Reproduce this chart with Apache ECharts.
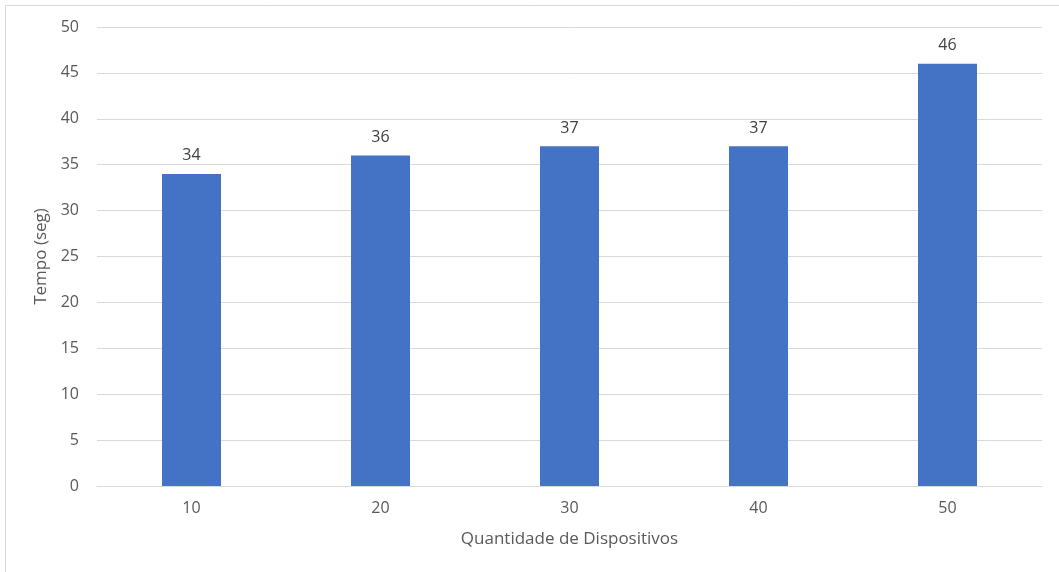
<!DOCTYPE html>
<html>
<head>
<meta charset="utf-8">
<script src="https://cdn.jsdelivr.net/npm/echarts@6/dist/echarts.min.js"></script>
<style>
html,body{margin:0;padding:0;background:#fff;}
#chart{width:1059px;height:572px;}
</style>
</head>
<body>
<div id="chart"></div>
<script>
const categories = ['10', '20', '30', '40', '50'];
const tempos = [34, 36, 37, 37, 46];
const xTitle = 'Quantidade de Dispositivos';
const yTitle = 'Tempo (seg)';

const chart = echarts.init(document.getElementById('chart'), null, {renderer: 'canvas'});
const font = 'Open Sans';
const textColor = '#595959';
chart.setOption({
  animation: false,
  backgroundColor: '#ffffff',
  graphic: [{
    type: 'rect',
    shape: {x: 5.5, y: 5.5, width: 1100, height: 600},
    style: {fill: 'none', stroke: '#d9d9d9', lineWidth: 1},
    silent: true
  }],
  grid: {left: 97, right: 17, top: 27, bottom: 86, containLabel: false},
  xAxis: {
    type: 'category',
    data: categories,
    name: xTitle,
    nameLocation: 'middle',
    nameGap: 45,
    nameTextStyle: {fontFamily: font, fontSize: 17, color: textColor},
    axisLine: {lineStyle: {color: '#d9d9d9'}},
    axisTick: {show: false},
    axisLabel: {fontFamily: font, fontSize: 16, color: textColor, margin: 14}
  },
  yAxis: {
    type: 'value',
    min: 0, max: 50, interval: 5,
    name: yTitle,
    nameLocation: 'middle',
    nameGap: 41,
    nameTextStyle: {fontFamily: font, fontSize: 17, color: textColor},
    axisLine: {show: false},
    axisTick: {show: false},
    splitLine: {lineStyle: {color: '#d9d9d9'}},
    axisLabel: {fontFamily: font, fontSize: 16, color: textColor, margin: 18}
  },
  series: [{
    type: 'bar',
    data: tempos,
    barWidth: 59,
    itemStyle: {color: '#4472c4'},
    label: {show: true, position: 'top', distance: 10, fontFamily: font, fontSize: 16, color: '#404040'}
  }]
});
</script>
</body>
</html>
